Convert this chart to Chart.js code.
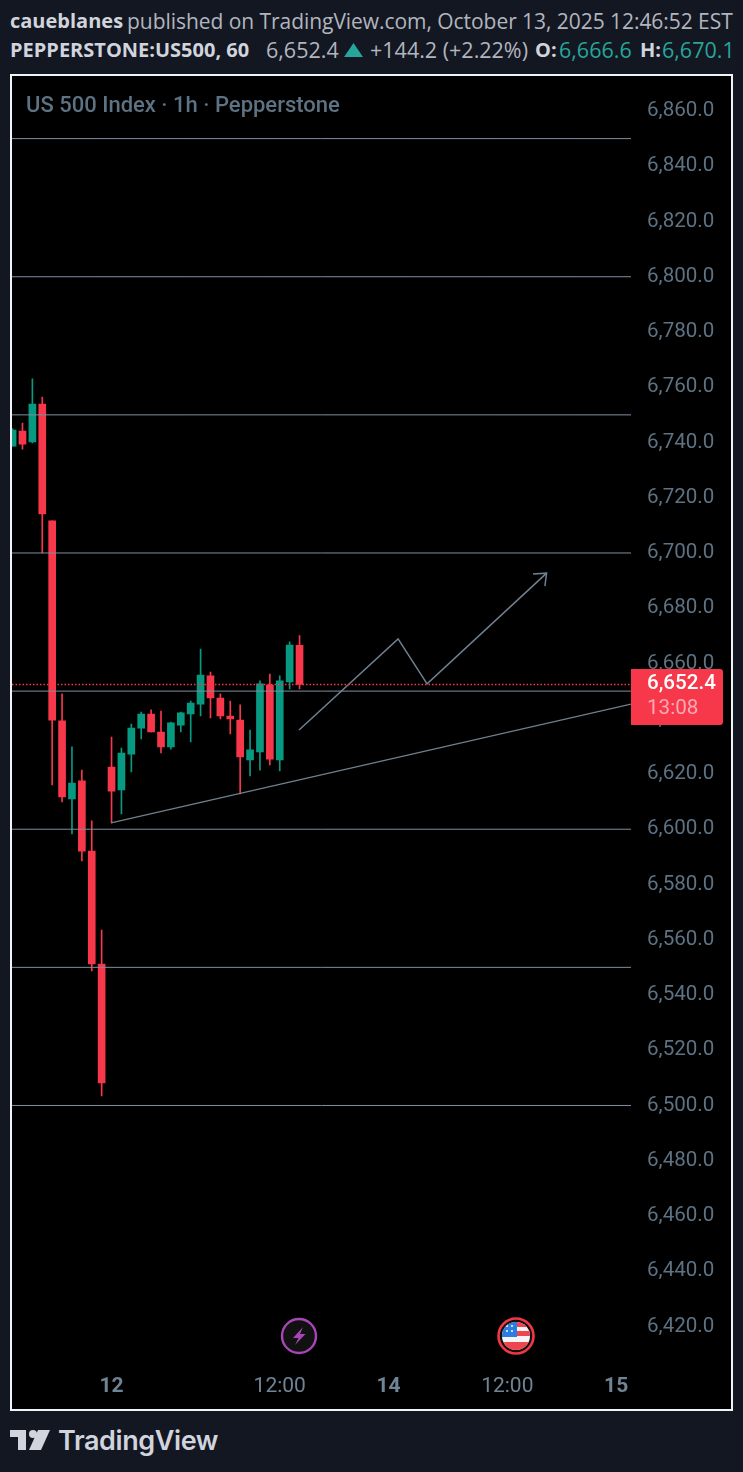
<!DOCTYPE html>
<html>
<head>
<meta charset="utf-8">
<title>US 500 Index</title>
<script src="https://cdn.jsdelivr.net/npm/chart.js@4"></script>
<style>
  html, body { margin: 0; padding: 0; background: #131722; }
  body { width: 743px; height: 1472px; position: relative; overflow: hidden; font-family: "Open Sans", sans-serif; }
  .t { position: absolute; white-space: nowrap; font-size: 21.5px; color: #b2b5be; line-height: 26px; }
  .b { font-size: 20px; font-weight: 700; color: #d1d4dc; }
  .up { color: #26a69a; }
  #frame { position: absolute; left: 10px; top: 74px; width: 719px; height: 1333px; border: 2px solid #f0f3fa; background: #000; }
  #chart { display: block; }
  #title { position: absolute; left: 26px; top: 92px; font: 500 22px Roboto, sans-serif; color: #5d7283; white-space: nowrap; }
  .icon { position: absolute; }
  #brand { position: absolute; left: 58px; top: 1424px; font: 600 27px Inter, sans-serif; letter-spacing: -0.4px; color: #d1d4dc; }
</style>
</head>
<body>
<div class="t b" style="left:10px;top:8px">caueblanes</div>
<div class="t" style="left:127px;top:8px;font-size:21px;letter-spacing:-0.05px">published on TradingView.com, October 13, 2025 12:46:52 EST</div>
<div class="t b" style="left:10px;top:37px">PEPPERSTONE:US500, 60</div>
<div class="t" style="left:266px;top:37px">6,652.4</div>
<svg class="icon" style="left:344px;top:43px" width="19" height="14" viewBox="0 0 19 14"><path d="M9.5 0 L19 14 H0 Z" fill="#26a69a"/></svg>
<div class="t" style="left:370px;top:37px">+144.2 (+2.22%)</div>
<div class="t b" style="left:535px;top:37px">O:</div>
<div class="t up" style="left:559px;top:37px">6,666.6</div>
<div class="t b" style="left:640px;top:37px">H:</div>
<div class="t up" style="left:662px;top:37px">6,670.1</div>
<div id="frame"><canvas id="chart" width="719" height="1333"></canvas></div>
<div id="title">US 500 Index · 1h · Pepperstone</div>

<svg class="icon" style="left:280px;top:1317px" width="38" height="38" viewBox="0 0 38 38">
  <circle cx="19" cy="19" r="17" fill="#111" stroke="#a846b8" stroke-width="2.4"/>
  <path d="M23 10 L13 21 H18.5 L15 28 L25.5 17 H20 Z" fill="#a846b8"/>
</svg>
<svg class="icon" style="left:496px;top:1316px" width="40" height="40" viewBox="0 0 40 40">
  <defs><clipPath id="flag"><circle cx="20" cy="20" r="14"/></clipPath></defs>
  <circle cx="20" cy="20" r="17.5" fill="#111" stroke="#f23645" stroke-width="2.6"/>
  <g clip-path="url(#flag)">
    <rect x="6" y="6" width="28" height="28" fill="#f5f5f5"/>
    <rect x="6" y="6" width="28" height="5" fill="#f0444f"/>
    <rect x="20" y="15" width="14" height="5" fill="#f0444f"/>
    <rect x="6" y="26" width="28" height="8" fill="#f0444f"/>
    <rect x="6" y="6" width="15" height="15" fill="#2a7de1"/>
    <circle cx="11" cy="10" r="1" fill="#fff"/><circle cx="16" cy="10" r="1" fill="#fff"/>
    <circle cx="11" cy="15" r="1" fill="#fff"/><circle cx="16" cy="15" r="1" fill="#fff"/>
  </g>
</svg>

<svg class="icon" style="left:10px;top:1430px" width="42" height="21" viewBox="0 0 42 21">
  <path d="M0 0 H16 V20 H8 V7 H0 Z" fill="#d1d4dc"/>
  <circle cx="23" cy="4" r="4" fill="#d1d4dc"/>
  <path d="M28 0 H40 L31 20 H19 Z" fill="#d1d4dc"/>
</svg>
<div id="brand">TradingView</div>

<script>
// candles, hourly, left to right
const opens  = [6738.7, 6744.1, 6740.2, 6753.9, 6711.6, 6639.2, 6611.0, 6617.5, 6592.1, 6551.2,
                6622.5, 6614.2, 6627.2, 6636.6, 6641.7, 6635.2, 6629.8, 6637.7, 6641.7, 6645.3,
                6655.5, 6647.5, 6641.0, 6639.5, 6625.1, 6628.0, 6652.2, 6625.1, 6653.3, 6666.6];
const highs  = [6744.9, 6747.0, 6763.0, 6756.4, 6711.6, 6649.0, 6629.8, 6621.4, 6603.0, 6563.5,
                6633.4, 6629.4, 6638.1, 6642.4, 6643.2, 6642.8, 6638.8, 6642.4, 6646.4, 6665.2,
                6656.9, 6649.0, 6646.4, 6645.0, 6635.9, 6653.7, 6656.2, 6655.5, 6667.8, 6670.1];
const lows   = [6738.7, 6737.6, 6739.8, 6700.0, 6616.0, 6609.9, 6598.3, 6588.5, 6548.7, 6503.5,
                6602.3, 6605.5, 6620.7, 6632.7, 6635.2, 6627.6, 6629.0, 6635.2, 6631.6, 6641.0,
                6640.3, 6639.9, 6634.5, 6612.8, 6619.3, 6621.4, 6623.3, 6621.1, 6650.8, 6650.8];
const closes = [6744.5, 6739.4, 6753.9, 6714.1, 6639.5, 6611.7, 6616.7, 6592.1, 6551.2, 6508.2,
                6613.8, 6627.6, 6636.6, 6641.7, 6635.2, 6629.8, 6638.5, 6642.1, 6645.7, 6655.8,
                6647.5, 6641.0, 6639.9, 6626.2, 6628.7, 6652.6, 6625.4, 6653.7, 6666.7, 6652.4];

// drawn levels and shapes
const levels = [6850, 6800, 6750, 6700, 6650, 6600, 6550, 6500];
const trendLine = [{ x: 9.95, y: 6602.3 }, { x: 62.5, y: 6645.3 }];
const zigzag = [{ x: 28.95, y: 6635.9 }, { x: 38.96, y: 6668.9 }, { x: 41.89, y: 6652.6 }, { x: 53.97, y: 6692.7 }];
const arrowHead = [{ x: 52.6, y: 6692.4 }, { x: 53.97, y: 6692.7 }, { x: 53.8, y: 6688.0 }];
const lastPrice = 6652.4;
const countdown = '13:08';

// axes
const priceTicks = [6420, 6440, 6460, 6480, 6500, 6520, 6540, 6560, 6580, 6600, 6620, 6640, 6660,
                    6680, 6700, 6720, 6740, 6760, 6780, 6800, 6820, 6840, 6860];
const timeTicks = [10, 27, 38, 50, 61];
const timeLabels = ['12', '12:00', '14', '12:00', '15'];
const majorTimes = ['12', '14', '15'];

const UP = '#089981', DOWN = '#f7374a', LEVEL = '#7f8ea3', DRAW = '#70808f';
const candleColors = closes.map((c, i) => c >= opens[i] ? UP : DOWN);
const xMin = -0.06, xMax = 62.5;

function hline(y, color, extra) {
    return Object.assign({
        type: 'line', data: [{ x: xMin, y: y }, { x: xMax, y: y }],
        borderColor: color, borderWidth: 1, pointRadius: 0
    }, extra);
}

// price tag on the axis, same y as the last price
const priceTag = {
    id: 'priceTag',
    afterDraw(chart) {
        const c = chart.ctx;
        const y = chart.scales.y.getPixelForValue(lastPrice);
        const x = chart.chartArea.right;
        c.save();
        c.fillStyle = '#f7374a';
        c.beginPath();
        c.roundRect(x, y - 15.5, 92, 56, [0, 3, 3, 0]);
        c.fill();
        c.font = '500 20.6px Roboto, sans-serif';
        c.textAlign = 'left';
        c.textBaseline = 'middle';
        c.fillStyle = '#ffffff';
        c.fillText('6,652.4', x + 16, y - 1);
        c.fillStyle = '#fcaab3';
        c.font = '20.6px Roboto, sans-serif';
        c.fillText(countdown, x + 16, y + 24);
        c.restore();
    }
};

const datasets = [];
levels.forEach(l => datasets.push(hline(l, LEVEL)));
datasets.push(hline(lastPrice, DOWN, { borderDash: [1.5, 2], borderWidth: 1.5 }));
datasets.push({ type: 'line', data: trendLine, borderColor: DRAW, borderWidth: 1.3, pointRadius: 0 });
datasets.push({ type: 'line', data: zigzag, borderColor: DRAW, borderWidth: 1.5, pointRadius: 0 });
datasets.push({ type: 'line', data: arrowHead, borderColor: DRAW, borderWidth: 1.5, pointRadius: 0 });
datasets.push({
    type: 'bar', grouped: false, barThickness: 1, borderWidth: 0,
    data: highs.map((h, i) => ({ x: i, y: [lows[i], h] })),
    backgroundColor: candleColors
});
datasets.push({
    type: 'bar', grouped: false, barThickness: 7, borderWidth: 0,
    data: opens.map((o, i) => ({ x: i, y: [o, closes[i]] })),
    backgroundColor: candleColors
});

new Chart(document.getElementById('chart').getContext('2d'), {
    data: { datasets: datasets },
    plugins: [priceTag],
    options: {
        responsive: false,
        animation: false,
        devicePixelRatio: 1,
        layout: { padding: 0, autoPadding: false },
        plugins: { legend: { display: false }, tooltip: { enabled: false }, title: { display: false } },
        scales: {
            x: {
                type: 'linear', min: xMin, max: xMax, offset: false, bounds: 'data',
                grid: { display: false, drawTicks: false }, border: { display: false },
                afterBuildTicks: axis => { axis.ticks = timeTicks.map(v => ({ value: v })); },
                afterFit: axis => { axis.height = 48; },
                ticks: {
                    autoSkip: false, maxRotation: 0, padding: 13, color: '#6f8494',
                    callback: v => timeLabels[timeTicks.indexOf(v)],
                    font: ctx => ({
                        family: 'Roboto, sans-serif', size: 21,
                        weight: majorTimes.includes(timeLabels[timeTicks.indexOf(ctx.tick && ctx.tick.value)]) ? '700' : '400'
                    })
                }
            },
            y: {
                position: 'right', min: 6407.5, max: 6862.4, bounds: 'data',
                grid: { display: false, drawTicks: false }, border: { display: false },
                afterBuildTicks: axis => { axis.ticks = priceTicks.map(v => ({ value: v })); },
                afterFit: axis => { axis.width = 100; },
                ticks: {
                    autoSkip: false, padding: 16, color: '#5d7283',
                    font: { family: 'Roboto, sans-serif', size: 20.6 },
                    callback: v => v.toLocaleString('en-US', { minimumFractionDigits: 1, maximumFractionDigits: 1 })
                }
            }
        }
    }
});
</script>
</body>
</html>
